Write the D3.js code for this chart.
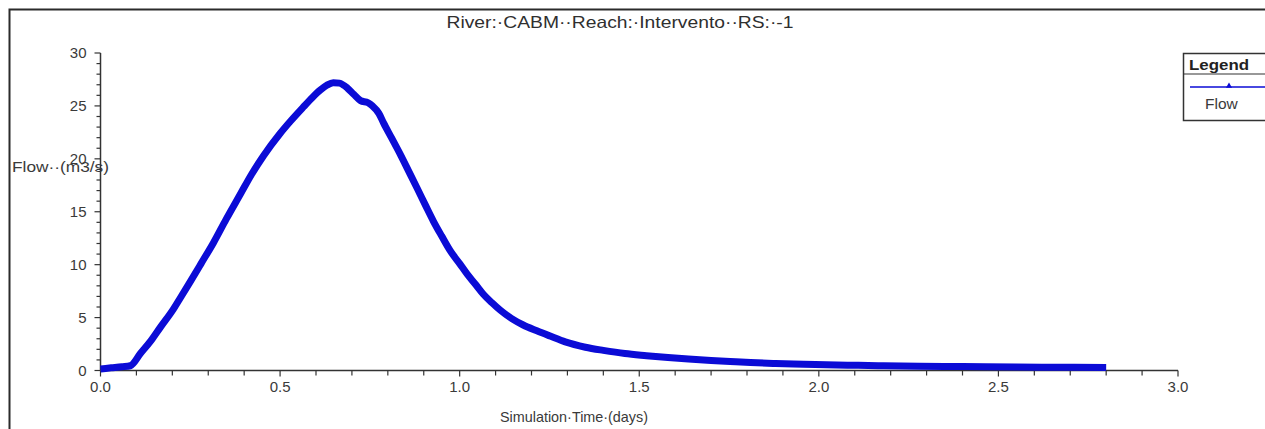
<!DOCTYPE html>
<html>
<head>
<meta charset="utf-8">
<script src="https://cdn.jsdelivr.net/npm/d3@7"></script>
<style>
  html, body { margin: 0; padding: 0; background: #fff; overflow: hidden; }
  svg { display: block; font-family: "Liberation Sans", Arial, sans-serif; }
  .tick-label { font-size: 15px; fill: #3a3a3a; }
  .axis-title { fill: #3a3a3a; }
</style>
</head>
<body>
<svg id="chart" width="1265" height="429"></svg>
<script>
// hydrograph: time (days) vs flow (m3/s)
const timeDays = [
  0.00, 0.03, 0.06, 0.083, 0.111, 0.14, 0.167, 0.203, 0.223, 0.25,
  0.28, 0.315, 0.35, 0.39, 0.42, 0.454, 0.50, 0.53, 0.565, 0.59,
  0.612, 0.63, 0.648, 0.665, 0.687, 0.705, 0.724, 0.745, 0.757, 0.775,
  0.788, 0.81, 0.835, 0.86, 0.882, 0.905, 0.927, 0.95, 0.974, 1.0,
  1.021, 1.045, 1.066, 1.09, 1.113, 1.145, 1.177, 1.215, 1.252, 1.294,
  1.35, 1.40, 1.46, 1.52, 1.58, 1.637, 1.70, 1.753, 1.81, 1.873,
  1.93, 1.99, 2.08, 2.165, 2.28, 2.40, 2.55, 2.70, 2.80
];
const flowCms = [
  0.15, 0.25, 0.35, 0.45, 1.6, 2.8, 4.1, 5.8, 6.9, 8.4,
  10.1, 12.1, 14.3, 16.7, 18.5, 20.3, 22.4, 23.6, 24.9, 25.8,
  26.5, 26.95, 27.2, 27.15, 26.7, 26.1, 25.5, 25.3, 25.0, 24.3,
  23.4, 22.0, 20.4, 18.7, 17.2, 15.6, 14.1, 12.7, 11.3, 10.1,
  9.1, 8.1, 7.2, 6.4, 5.7, 4.9, 4.3, 3.75, 3.25, 2.7,
  2.2, 1.9, 1.6, 1.4, 1.22, 1.08, 0.95, 0.85, 0.75, 0.67,
  0.61, 0.56, 0.5, 0.46, 0.41, 0.37, 0.33, 0.3, 0.28
];
const xMajorTicks = [0, 0.5, 1.0, 1.5, 2.0, 2.5, 3.0];
const yMajorTicks = [0, 5, 10, 15, 20, 25, 30];
const chartTitle = "River:\u00b7CABM\u00b7\u00b7Reach:\u00b7Intervento\u00b7\u00b7RS:\u00b7-1";
const xTitle = "Simulation\u00b7Time\u00b7(days)";
const yTitle = "Flow\u00b7\u00b7(m3/s)";
const seriesName = "Flow";

const svg = d3.select("#chart");
const lineColor = "#0b0bd6";
const axisColor = "#333";

const x = d3.scaleLinear().domain([0, 3]).range([100.5, 1178]);
const y = d3.scaleLinear().domain([0, 30]).range([370.5, 53]);

// outer frame
svg.append("rect")
    .attr("x", 9.5).attr("y", 9.5)
    .attr("width", 1280).attr("height", 440)
    .attr("fill", "none").attr("stroke", "#2b2b2b").attr("stroke-width", 2);

// title
svg.append("text")
    .attr("x", 620).attr("y", 28)
    .attr("text-anchor", "middle")
    .attr("font-size", 16.5)
    .attr("fill", "#2f2f2f")
    .attr("textLength", 347)
    .attr("lengthAdjust", "spacingAndGlyphs")
    .text(chartTitle);

// axes lines
svg.append("line")
    .attr("x1", x(0)).attr("x2", x(0)).attr("y1", y(30)).attr("y2", y(0))
    .attr("stroke", axisColor).attr("stroke-width", 1.5);
svg.append("line")
    .attr("x1", x(0)).attr("x2", x(3)).attr("y1", y(0)).attr("y2", y(0))
    .attr("stroke", axisColor).attr("stroke-width", 1.5);

// y ticks: minor every 1, major every 5
svg.append("g").selectAll("line")
    .data(d3.range(0, 31))
    .join("line")
    .attr("x1", d => d % 5 === 0 ? x(0) - 6 : x(0) - 4)
    .attr("x2", x(0))
    .attr("y1", d => y(d)).attr("y2", d => y(d))
    .attr("stroke", axisColor).attr("stroke-width", 1.2);

svg.append("g").selectAll("text")
    .data(yMajorTicks)
    .join("text")
    .attr("class", "tick-label")
    .attr("x", x(0) - 14)
    .attr("y", d => y(d) + 5)
    .attr("text-anchor", "end")
    .text(d => d);

// x ticks: minor every 0.1
svg.append("g").selectAll("line")
    .data(d3.range(0, 31).map(i => i / 10))
    .join("line")
    .attr("x1", d => x(d)).attr("x2", d => x(d))
    .attr("y1", y(0))
    .attr("y2", (d, i) => i % 5 === 0 ? y(0) + 6 : y(0) + 5)
    .attr("stroke", axisColor).attr("stroke-width", 1.2);

svg.append("g").selectAll("text")
    .data(xMajorTicks)
    .join("text")
    .attr("class", "tick-label")
    .attr("x", d => x(d))
    .attr("y", y(0) + 21)
    .attr("text-anchor", "middle")
    .text(d => d.toFixed(1));

// axis titles
svg.append("text")
    .attr("class", "axis-title")
    .attr("x", 500).attr("y", 422)
    .attr("font-size", 14.5)
    .attr("textLength", 148)
    .attr("lengthAdjust", "spacingAndGlyphs")
    .text(xTitle);

svg.append("text")
    .attr("class", "axis-title")
    .attr("x", 12).attr("y", 172)
    .attr("font-size", 15.5)
    .attr("textLength", 97)
    .attr("lengthAdjust", "spacingAndGlyphs")
    .text(yTitle);

// series
const points = timeDays.map((t, i) => ({ t, q: flowCms[i] }));
const line = d3.line()
    .x(d => x(d.t))
    .y(d => y(d.q))
    .curve(d3.curveMonotoneX);

svg.append("path")
    .datum(points)
    .attr("fill", "none")
    .attr("stroke", lineColor)
    .attr("stroke-width", 7)
    .attr("stroke-linejoin", "round")
    .attr("stroke-linecap", "butt")
    .attr("d", line);

// legend
const lg = svg.append("g");
lg.append("rect")
    .attr("x", 1183.5).attr("y", 53.5)
    .attr("width", 100).attr("height", 67)
    .attr("fill", "#fff").attr("stroke", "#333").attr("stroke-width", 1.5);
lg.append("line")
    .attr("x1", 1183.5).attr("x2", 1283).attr("y1", 74).attr("y2", 74)
    .attr("stroke", "#333").attr("stroke-width", 1.2);
lg.append("text")
    .attr("x", 1189).attr("y", 70)
    .attr("font-size", 15).attr("font-weight", "bold").attr("fill", "#222")
    .attr("textLength", 60)
    .attr("lengthAdjust", "spacingAndGlyphs")
    .text("Legend");
lg.append("line")
    .attr("x1", 1190).attr("x2", 1270).attr("y1", 87).attr("y2", 87)
    .attr("stroke", lineColor).attr("stroke-width", 1.3);
lg.append("path")
    .attr("d", d3.symbol(d3.symbolTriangle, 16)())
    .attr("transform", "translate(1229,86)")
    .attr("fill", lineColor);
lg.append("text")
    .attr("x", 1205).attr("y", 109)
    .attr("font-size", 15.5).attr("fill", "#3a3a3a")
    .text(seriesName);
</script>
</body>
</html>
